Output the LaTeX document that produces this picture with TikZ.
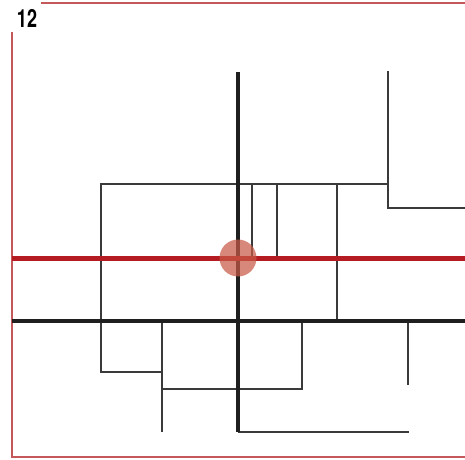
\documentclass[tikz,border=0pt]{standalone}
\usepackage{fontspec}
\newfontfamily\numfont[FakeStretch=0.72]{TeX Gyre Heros}
\definecolor{framered}{HTML}{C4585A}
\definecolor{linered}{HTML}{B51C22}
\definecolor{thin}{HTML}{3A3A3A}
\definecolor{dot}{HTML}{C85A46}
\tikzset{
  frameline/.style={draw=framered,line width=1.3pt},
  thinline/.style={draw=thin,line width=1.3pt},
  thickline/.style={draw=black!88,line width=4pt},
  redline/.style={draw=linered,line width=5pt},
  marker/.style={fill=dot,fill opacity=0.72,draw=none},
}
\begin{document}
\begin{tikzpicture}[x=1pt,y=-1pt]
\useasboundingbox (0,0) rectangle (465,459);
% frame
\draw[frameline] (41,3) -- (465,3);
\draw[frameline] (465,457) -- (12,457) -- (12,32);
\node[font=\numfont\bfseries\fontsize{25}{25}\selectfont,inner sep=0pt] (num) at (27,18) {12};
% thin lines
\draw[thinline] (388,71) -- (388,208) -- (465,208);
\draw[thinline] (388,184) -- (101,184) -- (101,372) -- (162,372);
\draw[thinline] (252,184) -- (252,258);
\draw[thinline] (277,184) -- (277,258);
\draw[thinline] (337,184) -- (337,321);
\draw[thinline] (162,321) -- (162,432);
\draw[thinline] (162,389) -- (302,389) -- (302,321);
\draw[thinline] (408,321) -- (408,385);
\draw[thinline] (238,432) -- (409,432);
% thick lines
\draw[thickline] (12,321) -- (465,321);
\draw[thickline] (238,72) -- (238,432);
\draw[redline] (12,258) -- (465,258);
\fill[marker] (238,258) circle (18.5);
\end{tikzpicture}
\end{document}
